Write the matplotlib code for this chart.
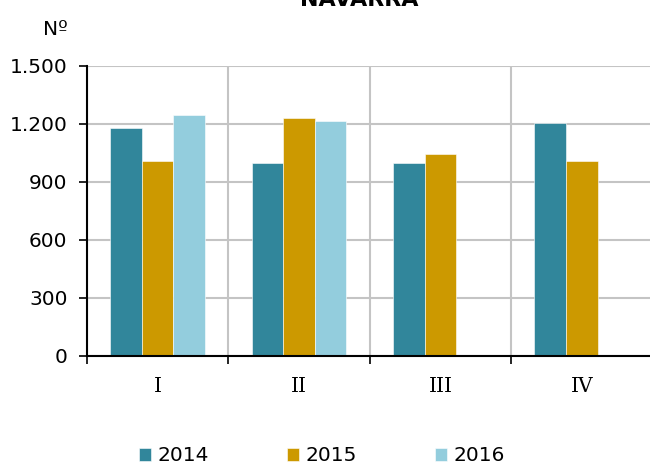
import matplotlib
matplotlib.use('Agg')
import matplotlib.pyplot as plt
from matplotlib.ticker import FuncFormatter, MultipleLocator
import numpy as np

plt.rcParams['font.family'] = 'DejaVu Sans'

# data
quarters = ['I', 'II', 'III', 'IV']
years = ['2014', '2015', '2016']
v2014 = [1178, 1000, 998, 1204]
v2015 = [1006, 1231, 1047, 1006]
v2016 = [1246, 1213, np.nan, np.nan]
colors = ['#31869B', '#CC9900', '#93CDDD']

fig = plt.figure(figsize=(6.5, 4.66), dpi=100)
ax = fig.add_axes([0.1338, 0.2361, 0.870, 0.6223])

x = np.arange(len(quarters)) + 0.5
w = 0.223
for i, (vals, c, lab) in enumerate(zip([v2014, v2015, v2016], colors, years)):
    ax.bar(x + (i - 1) * w, vals, width=w, color=c, label=lab,
           edgecolor='white', linewidth=0.4, zorder=3)

ax.set_xlim(0, 4)
ax.set_ylim(0, 1500)
ax.yaxis.set_major_locator(MultipleLocator(300))
ax.yaxis.set_major_formatter(FuncFormatter(lambda v, p: f'{int(v):,}'.replace(',', '.')))

ax.set_xticks(x)
ax.set_xticklabels(quarters, family='DejaVu Serif', fontsize=14.5)
ax.set_xticks(np.arange(0, 5), minor=True)
ax.tick_params(axis='x', which='major', length=0, pad=15)
ax.tick_params(axis='x', which='minor', length=6, width=1.2, direction='out')
ax.tick_params(axis='y', length=6, width=1.2, direction='out', labelsize=14.5, pad=8)

ax.grid(axis='y', which='major', color='#c4c4c4', linewidth=1.5, zorder=0)
ax.grid(axis='x', which='minor', color='#c4c4c4', linewidth=1.5, zorder=0)
ax.grid(axis='x', which='major', visible=False)

for s in ['top', 'right']:
    ax.spines[s].set_visible(False)
for s in ['left', 'bottom']:
    ax.spines[s].set_linewidth(1.5)
    ax.spines[s].set_zorder(4)

fig.text(0.552, 0.988, 'NAVARRA', ha='center', va='baseline',
         fontsize=16, fontweight='bold')
fig.text(0.085, 0.936, 'Nº', ha='center', va='center', fontsize=14.5)

fig.legend(loc='center', bbox_to_anchor=(0.495, 0.022), ncol=3, frameon=False,
           fontsize=14.5, handlelength=0.6, handleheight=0.6,
           handletextpad=0.3, columnspacing=3.9)

fig.savefig('out.png', dpi=100)
